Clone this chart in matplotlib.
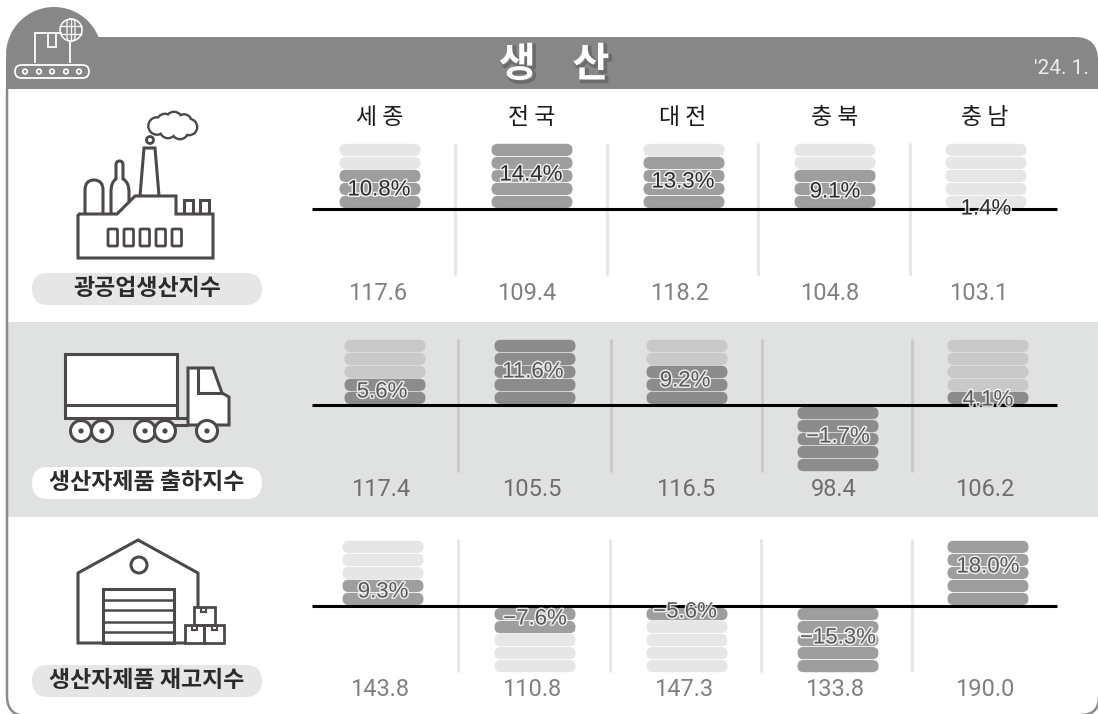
import matplotlib
matplotlib.use("Agg")
import matplotlib.pyplot as plt
import matplotlib.patheffects as pe
from matplotlib.patches import FancyBboxPatch, Circle, Rectangle, Polygon, Wedge, PathPatch
from matplotlib.path import Path

plt.rcParams['font.family'] = ['Noto Sans CJK KR', 'DejaVu Sans']

# ------------------------------------------------------------
# data
# ------------------------------------------------------------
regions = ["세 종", "전 국", "대 전", "충 북", "충 남"]
row_names = ["광공업생산지수", "생산자제품 출하지수", "생산자제품 재고지수"]

index_row1 = [117.6, 109.4, 118.2, 104.8, 103.1]
index_row2 = [117.4, 105.5, 116.5, 98.4, 106.2]
index_row3 = [143.8, 110.8, 147.3, 133.8, 190.0]

change_row1 = [10.8, 14.4, 13.3, 9.1, 1.4]
change_row2 = [5.6, 11.6, 9.2, -1.7, 4.1]
change_row3 = [9.3, -7.6, -5.6, -15.3, 18.0]

# filled capsules out of 5
filled_row1 = [3, 5, 4, 3, 0]
filled_row2 = [2, 5, 3, 5, 1]
filled_row3 = [2, 2, 1, 5, 5]

# ------------------------------------------------------------
# layout (pixels of the 1098x714 canvas)
# ------------------------------------------------------------
rows = [
    dict(index=index_row1, change=change_row1, filled=filled_row1, base=209,
         centers=[380, 532, 684, 835, 986], divs=[455, 607, 758, 910], div_span=(143, 275),
         pct_pos=[(379, 190), (531, 175), (683, 182), (835, 192), (986, 209)],
         val_x=[378, 527, 680, 830, 979], val_y=293,
         dark="#9E9E9E", light="#E6E6E6", div="#E6E6E6", txt="#2E2E2E", val="#808080",
         pill=(273, "#E6E6E6")),
    dict(index=index_row2, change=change_row2, filled=filled_row2, base=405,
         centers=[385, 535, 687, 838, 988], divs=[458, 611, 762, 912], div_span=(339, 472),
         pct_pos=[(382, 392), (533, 372), (685, 381), (838, 437), (988, 400)],
         val_x=[381, 532, 686, 834, 985], val_y=490,
         dark="#8C8C8C", light="#C9C9C9", div="#C9C9C9", txt="#5A5A5A", val="#6E6E6E",
         pill=(467, "#FFFFFF")),
    dict(index=index_row3, change=change_row3, filled=filled_row3, base=606,
         centers=[383, 535, 687, 838, 988], divs=[458, 610, 761, 912], div_span=(539, 672),
         pct_pos=[(383, 592), (535, 619), (685, 612), (838, 638), (988, 567)],
         val_x=[380, 532, 684, 835, 985], val_y=690,
         dark="#9E9E9E", light="#E6E6E6", div="#E6E6E6", txt="#5A5A5A", val="#808080",
         pill=(665, "#E6E6E6")),
]

region_x = [380, 532, 683, 835, 985]
CAP_W, CAP_H, CAP_STEP = 81, 12.2, 13
ICON = "#4D4948"
HEADER = "#878787"
NUM_FONT = ["Roboto", "Liberation Sans"]

fig = plt.figure(figsize=(10.98, 7.14), dpi=100)
ax = fig.add_axes([0, 0, 1, 1])
ax.set_xlim(0, 1098)
ax.set_ylim(714, 0)
ax.axis("off")


def stroke(pts, color=ICON, lw=2.2, closed=False, z=3):
    xs = [p[0] for p in pts]
    ys = [p[1] for p in pts]
    if closed:
        xs.append(xs[0])
        ys.append(ys[0])
    ax.plot(xs, ys, color=color, lw=lw, solid_joinstyle="miter", solid_capstyle="butt", zorder=z)


def ring(x, y, r, color=ICON, lw=2.2, fc="none", z=3):
    ax.add_patch(Circle((x, y), r, fc=fc, ec=color, lw=lw, zorder=z))


def rbox(x, y, w, h, r, fc="none", ec="none", lw=0, z=2):
    ax.add_patch(FancyBboxPatch((x, y), w, h, boxstyle=f"round,pad=0,rounding_size={r}",
                                fc=fc, ec=ec, lw=lw, zorder=z))


# ------------------------------------------------------------
# frame, band, header
# ------------------------------------------------------------
ax.add_patch(Rectangle((7, 322), 1091, 195, fc="#E0E1E1", ec="none", zorder=1))

# the outer frame runs off the canvas at the bottom and right, only the corners show
frame_left = Path([(7, 89), (7, 696), (7, 716), (27, 716)],
                  [Path.MOVETO, Path.LINETO, Path.CURVE3, Path.CURVE3])
frame_right = Path([(1081, 715), (1099, 715), (1099, 697)],
                   [Path.MOVETO, Path.CURVE3, Path.CURVE3])
for part in [frame_left, frame_right]:
    ax.add_patch(PathPatch(part, fc="none", ec="#8A8A8A", lw=1.8, zorder=2))

head = Path([(6, 89), (6, 60), (6, 37), (30, 37), (1075, 37), (1098, 37), (1098, 60), (1098, 89), (6, 89)],
            [Path.MOVETO, Path.LINETO, Path.CURVE3, Path.CURVE3, Path.LINETO, Path.CURVE3, Path.CURVE3, Path.LINETO, Path.CLOSEPOLY])
ax.add_patch(PathPatch(head, fc=HEADER, ec="none", zorder=2))
ax.add_patch(Wedge((54, 55), 48, 180, 360, fc=HEADER, ec="none", zorder=2))

title = ax.text(554, 65, "생    산", color="white", fontsize=29, fontweight="bold",
                ha="center", va="center", zorder=5)
title.set_path_effects([pe.SimpleLineShadow(offset=(1.5, -1.5), shadow_color="#3A3A3A", alpha=0.35, linewidth=2.5),
                        pe.Normal()])
ax.text(1061, 68, "'24. 1.", color="#EDEDED", fontsize=15, ha="center", va="center",
        family=NUM_FONT, zorder=5)

# conveyor icon
W = "white"
stroke([(35, 63), (35, 33), (62, 33)], color=W, lw=1.3)
stroke([(48, 33), (48, 47), (56, 47), (56, 33)], color=W, lw=1.3)
stroke([(70, 42), (70, 63)], color=W, lw=1.3)
ring(71, 30, 11, color=W, lw=1.1)
ax.add_patch(FancyBboxPatch((67, 19), 8, 22, boxstyle="round,pad=0,rounding_size=4", fc="none", ec=W, lw=0.9, zorder=3))
stroke([(60, 26), (82, 26)], color=W, lw=0.9)
stroke([(60, 34), (82, 34)], color=W, lw=0.9)
stroke([(71, 19), (71, 41)], color=W, lw=0.9)
rbox(15, 65, 74, 13, 6.5, ec=W, lw=1.3, z=3)
for cx in [25, 39, 52, 66, 79]:
    ring(cx, 71.5, 2.3, color=W, lw=1.2)

# ------------------------------------------------------------
# factory icon
# ------------------------------------------------------------
stroke([(78, 214), (117, 214), (135, 196), (176, 196), (176, 214), (213, 214), (213, 258), (78, 258)], closed=True)
for wx in [108, 124, 140, 156, 172]:
    rbox(wx, 229, 9.5, 17, 1, ec=ICON, lw=2.0, z=3)
tower = Path([(85, 214), (85, 190), (85, 180), (94, 180), (103, 180), (103, 190), (103, 214)],
             [Path.MOVETO, Path.LINETO, Path.CURVE3, Path.CURVE3, Path.CURVE3, Path.CURVE3, Path.LINETO])
ax.add_patch(PathPatch(tower, fc="none", ec=ICON, lw=2.2, zorder=3))
bottle = Path([(111, 214), (111, 192), (111, 182), (116, 179), (116, 165), (116, 161), (119.5, 161), (123, 161), (123, 165),
               (123, 179), (129, 182), (129, 192), (129, 203)],
              [Path.MOVETO, Path.LINETO, Path.CURVE3, Path.CURVE3, Path.LINETO, Path.CURVE3, Path.CURVE3, Path.CURVE3, Path.CURVE3,
               Path.LINETO, Path.CURVE3, Path.CURVE3, Path.LINETO])
ax.add_patch(PathPatch(bottle, fc="none", ec=ICON, lw=2.2, zorder=3))
stroke([(140, 196), (144, 148), (155, 148), (159, 196)])
ring(150, 140, 3.5, lw=2.0)
stroke([(184, 214), (184, 200), (193, 200), (193, 214)])
stroke([(200, 214), (200, 200), (209, 200), (209, 214)])
# cloud
cloud = [(157, 126, 8.5), (165, 122, 8), (174, 120, 8), (184, 122, 7.5), (189, 127, 8), (180, 131, 8), (168, 130, 8)]
for cx, cy, rx in cloud:
    ax.add_patch(Circle((cx, cy), rx, fc="white", ec=ICON, lw=2.0, zorder=3))
for cx, cy, rx in cloud:
    ax.add_patch(Circle((cx, cy), rx - 1, fc="white", ec="none", zorder=3.1))

# ------------------------------------------------------------
# truck icon
# ------------------------------------------------------------
ax.add_patch(Rectangle((65, 354), 112, 64, fc="white", ec=ICON, lw=2.2, zorder=3))
stroke([(65, 405), (177, 405)])
ax.add_patch(Polygon([(188, 368), (213, 368), (222, 393), (229, 397), (229, 425), (188, 425)],
                     closed=True, fc="white", ec=ICON, lw=2.2, zorder=3))
stroke([(198, 368), (198, 393), (222, 393)])
stroke([(177, 418), (188, 418)])
stroke([(170, 425), (188, 425)])
for cx in [81, 102, 145, 165, 207]:
    ring(cx, 431, 10.5, fc="white", lw=2.2)
    ax.add_patch(Circle((cx, 431), 2.6, fc=ICON, ec="none", zorder=4))

# ------------------------------------------------------------
# warehouse icon
# ------------------------------------------------------------
stroke([(185, 643), (78, 643), (78, 573), (138, 540), (198, 573), (198, 607)])
ring(139, 565, 8)
ax.add_patch(Rectangle((103, 589), 71, 54, fc="none", ec=ICON, lw=2.2, zorder=3))
for sy in [600, 610, 622, 632]:
    stroke([(103, sy), (174, sy)], lw=1.8)
ax.add_patch(Rectangle((194, 607), 21, 18, fc="none", ec=ICON, lw=2.0, zorder=3))
ax.add_patch(Rectangle((185, 625), 19, 18, fc="none", ec=ICON, lw=2.0, zorder=3))
ax.add_patch(Rectangle((204, 625), 20, 18, fc="none", ec=ICON, lw=2.0, zorder=3))
for tx, ty in [(201, 607), (192, 625), (212, 625)]:
    stroke([(tx, ty), (tx, ty + 5), (tx + 5, ty + 5), (tx + 5, ty)], lw=1.5)

# ------------------------------------------------------------
# column heads
# ------------------------------------------------------------
for x, name in zip(region_x, regions):
    ax.text(x, 118, name, fontsize=16.5, color="#1A1A1A", ha="center", va="center", zorder=5)

# ------------------------------------------------------------
# rows
# ------------------------------------------------------------
for row, name in zip(rows, row_names):
    # pill with the row name
    rbox(32, row["pill"][0], 230, 32, 16, fc=row["pill"][1], z=2)
    ax.text(147, row["pill"][0] + 15.5, name, fontsize=16.5, fontweight="bold", color="#2B2B2B",
            ha="center", va="center", zorder=5)

    for dx in row["divs"]:
        ax.plot([dx, dx], row["div_span"], color=row["div"], lw=2.2, solid_capstyle="butt", zorder=2)

    for cx, val, chg, n, (px, py), vx in zip(row["centers"], row["index"], row["change"],
                                             row["filled"], row["pct_pos"], row["val_x"]):
        up = chg >= 0
        for i in range(5):
            # i counts from the base line outwards
            top = row["base"] - CAP_H - 1 - i * CAP_STEP if up else row["base"] + 2 + i * CAP_STEP
            col = row["dark"] if i < n else row["light"]
            rbox(cx - CAP_W / 2, top, CAP_W, CAP_H, CAP_H / 2, fc=col, z=3)

        lab = f"{chg:.1f}%".replace("-", "\u2212")
        t = ax.text(px, py, lab, fontsize=16, color=row["txt"], ha="center", va="center",
                    family="Liberation Sans", zorder=7)
        t.set_path_effects([pe.withStroke(linewidth=2.2, foreground="white", alpha=0.8)])

        ax.text(vx, row["val_y"], f"{val:.1f}", fontsize=17, color=row["val"], ha="center", va="center",
                family=NUM_FONT, zorder=5)

    ax.plot([312, 1057], [row["base"], row["base"]], color="black", lw=2.2, solid_capstyle="butt", zorder=6)

fig.savefig("out.png", dpi=100)
